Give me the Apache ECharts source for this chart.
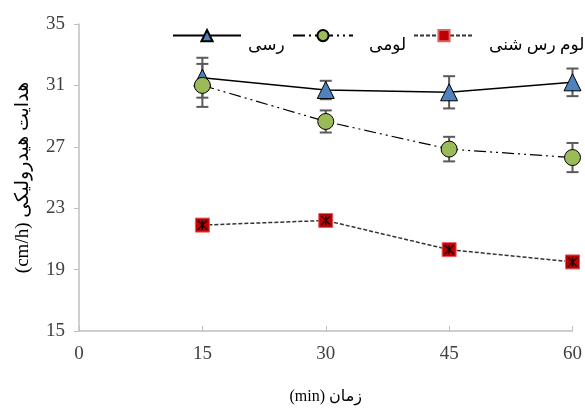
<!DOCTYPE html>
<html><head><meta charset="utf-8">
<script src="https://cdn.jsdelivr.net/npm/echarts@6/dist/echarts.min.js"></script>
<style>html,body{margin:0;padding:0;background:#fff}#c{width:585px;height:410px}</style>
</head><body><div id="c"></div>
<script>
const times = [15, 30, 45, 60];
const clayName = 'رسی';
const loamName = 'لومی';
const sandyName = 'لوم رس شنی';
const clayVals = [31.5, 30.7, 30.55, 31.2];
const clayErr = [1.3, 0.6, 1.05, 0.9];
const loamVals = [31.0, 28.65, 26.85, 26.3];
const loamErr = [1.4, 0.72, 0.8, 0.95];
const sandyVals = [21.9, 22.2, 20.3, 19.5];
const xTicks = [0, 15, 30, 45, 60];
const yTicks = [15, 19, 23, 27, 31, 35];

const FONT = '"Liberation Serif", "Times New Roman", "DejaVu Sans", serif';
const chart = echarts.init(document.getElementById('c'));

function errSeries(vals, errs) {
  return {
    type: 'custom',
    z: 1,
    silent: true,
    data: times.map((t, i) => [t, vals[i] - errs[i], vals[i] + errs[i]]),
    renderItem: function (params, api) {
      const lo = api.coord([api.value(0), api.value(1)]);
      const hi = api.coord([api.value(0), api.value(2)]);
      const w = 6;
      const st = { stroke: '#5a5a5a', lineWidth: 2 };
      return {
        type: 'group',
        children: [
          { type: 'line', shape: { x1: lo[0], y1: lo[1], x2: hi[0], y2: hi[1] }, style: st },
          { type: 'line', shape: { x1: lo[0] - w, y1: lo[1], x2: lo[0] + w, y2: lo[1] }, style: st },
          { type: 'line', shape: { x1: hi[0] - w, y1: hi[1], x2: hi[0] + w, y2: hi[1] }, style: st }
        ]
      };
    }
  };
}

function legendFor(name, left, width, gapLeft) {
  return {
    left: left, top: 29, padding: 0,
    itemWidth: width, itemHeight: 14, itemGap: 0,
    data: [name],
    formatter: '{t|{name}}',
    textStyle: {
      fontFamily: FONT, fontSize: 17, color: '#000',
      rich: { t: { fontFamily: FONT, fontSize: 17, color: '#000', padding: [20, 0, 0, gapLeft] } }
    }
  };
}

chart.setOption({
  animation: false,
  backgroundColor: '#fff',
  grid: { left: 79, right: 11, top: 24, bottom: 77 },
  legend: [
    legendFor(clayName, 172, 68, 2),
    legendFor(loamName, 292, 60, 11),
    legendFor(sandyName, 413, 60, 10)
  ],
  xAxis: {
    type: 'value', min: 0, max: 60, interval: 15,
    name: '(min) زمان', nameLocation: 'middle', nameGap: 58,
    nameTextStyle: { fontFamily: FONT, fontSize: 16, color: '#000' },
    axisLine: { lineStyle: { color: '#bfbfbf', width: 1.5 } },
    axisTick: { show: true, inside: true, length: 5, lineStyle: { color: '#bfbfbf' } },
    axisLabel: { fontFamily: FONT, fontSize: 19, color: '#404040', margin: 14,
      formatter: v => xTicks.includes(v) ? String(v) : '' },
    splitLine: { show: false }
  },
  yAxis: {
    type: 'value', min: 15, max: 35, interval: 4,
    name: '(cm/h) هدایت هیدرولیکی', nameLocation: 'middle', nameGap: 46, nameRotate: 90,
    nameTextStyle: { fontFamily: FONT, fontSize: 19, color: '#000' },
    axisLine: { show: true, lineStyle: { color: '#bfbfbf', width: 1.5 } },
    axisTick: { show: true, inside: false, length: 5, lineStyle: { color: '#bfbfbf' } },
    axisLabel: { fontFamily: FONT, fontSize: 19, color: '#404040', margin: 14,
      formatter: v => yTicks.includes(v) ? String(v) : '' },
    splitLine: { show: false }
  },
  series: [
    {
      name: clayName, type: 'line', z: 3,
      data: times.map((t, i) => [t, clayVals[i]]),
      symbol: 'triangle', symbolSize: 17,
      itemStyle: { color: '#4f81bd', borderColor: '#000', borderWidth: 1 },
      lineStyle: { color: '#000', width: 1.5, type: 'solid' }
    },
    {
      name: loamName, type: 'line', z: 3,
      data: times.map((t, i) => [t, loamVals[i]]),
      symbol: 'circle', symbolSize: 16,
      itemStyle: { color: '#9bbb59', borderColor: '#000', borderWidth: 1 },
      lineStyle: { color: '#000', width: 1.2, type: [12, 4, 2, 4, 2, 4] }
    },
    {
      name: sandyName, type: 'line', z: 3,
      data: times.map((t, i) => [t, sandyVals[i]]),
      symbol: 'rect', symbolSize: 14,
      itemStyle: { color: '#c00000', borderColor: '#e06060', borderWidth: 1 },
      lineStyle: { color: '#333', width: 1.5, type: [4, 2] }
    },
    {
      type: 'scatter', z: 4, silent: true,
      data: times.map((t, i) => [t, sandyVals[i]]),
      symbol: 'path://M0,0L10,10M10,0L0,10M5,0L5,10', symbolSize: 9,
      itemStyle: { color: 'none', borderColor: '#000', borderWidth: 1.5 }
    },
    errSeries(clayVals, clayErr),
    errSeries(loamVals, loamErr)
  ]
});
</script></body></html>
